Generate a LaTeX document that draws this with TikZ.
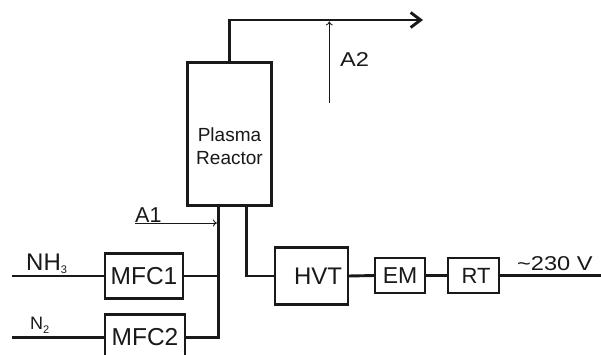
\documentclass[tikz,border=0pt]{standalone}
\usepackage{fontspec}
\setmainfont{Liberation Sans}
\newfontfamily\widesans[FakeStretch=1.18]{Liberation Sans}
\usetikzlibrary{arrows.meta}
\definecolor{ink}{RGB}{25,25,25}
\newcommand{\lowsub}[2]{\raisebox{-#1}{\fontsize{11}{12}\selectfont #2}}
\tikzset{
  blk/.style={draw=ink, line width=2.9pt, inner sep=0pt, outer sep=0pt, text=ink},
  pipe/.style={draw=ink, line width=2.9pt},
  probe/.style={draw=ink, line width=0.9pt, -{To[length=4pt,width=7pt]}},
  lbl/.style={inner sep=0pt, text=ink, anchor=base west},
}
\begin{document}
\begin{tikzpicture}[x=1pt,y=-1pt]
\useasboundingbox (0,0) rectangle (601,354);
\clip (0,0) rectangle (601,354);
\fill[white] (0,0) rectangle (601,354);
% blocks
\node[blk, minimum width=84pt, minimum height=143pt] (reactor) at (229.7,134.2) {};
\node[inner sep=0pt, text=ink, align=center, font=\fontsize{19}{23}\selectfont] (rtext) at (229.5,146) {Plasma\\Reactor};
\node[blk, minimum width=78pt, minimum height=45pt, font=\fontsize{24.5}{28}\selectfont] (mfc1) at (144,276) {MFC1};
\node[blk, minimum width=80pt, minimum height=46pt, font=\fontsize{24.5}{28}\selectfont] (mfc2) at (145,337.5) {MFC2};
\node[blk, minimum width=73pt, minimum height=57pt, font=\fontsize{24}{28}\selectfont] (hvt) at (311.5,276) {\hspace*{13pt}HVT};
\node[blk, minimum width=50pt, minimum height=35pt, font=\fontsize{23}{28}\selectfont] (em) at (400,275.5) {EM};
\node[blk, minimum width=51pt, minimum height=35pt, font=\fontsize{22}{28}\selectfont] (rt) at (473.5,275.5) {\hspace*{5pt}RT};
% coordinates
\coordinate (nh3) at (12,276);
\coordinate (n2) at (12,337.5);
\coordinate (in) at (218.3,337.5);
\coordinate (outx) at (246.7,0);
\coordinate (exh) at (423,20);
\coordinate (mains) at (601,275.5);
\coordinate (a1s) at (135,223);
\coordinate (a2s) at (329.3,103);
% gas lines
\draw[pipe] (nh3) -- (mfc1.west);
\draw[pipe] (n2) -- (mfc2.west);
\draw[pipe] (mfc2.east) -- (in) -- (reactor.south -| in);
\draw[pipe] (mfc1.east) -- (mfc1.east -| in);
% exhaust
\draw[pipe, -{Straight Barb[length=10pt,width=15pt,line width=2.9pt]}] (reactor.north) -- (reactor.north |- exh) -- (exh);
% electrical
\draw[pipe] (reactor.south -| outx) -- (hvt.west -| outx) -- (hvt.west);
\draw[pipe] (hvt.east) -- (em.west);
\draw[pipe] (em.east) -- (rt.west);
\draw[pipe] (rt.east) -- (mains);
% probes
\draw[probe, shorten >=1.4pt] (a1s) -- (a1s -| in);
\draw[probe, shorten >=1.4pt] (a2s) -- (a2s |- exh);
% labels
\node[lbl, font=\fontsize{21.5}{24}\selectfont] (a1) at (135,222) {A1};
\node[lbl, font=\widesans\fontsize{20}{24}\selectfont] (a2) at (340,66.5) {A2};
\node[lbl, font=\fontsize{24}{28}\selectfont] (lnh3) at (26,270) {NH\lowsub{3pt}{3}};
\node[lbl, font=\fontsize{18}{22}\selectfont] (ln2) at (30,329) {N\lowsub{4pt}{2}};
\node[lbl, font=\widesans\fontsize{20}{24}\selectfont] (lv) at (517,270.5) {\textasciitilde230 V};
\end{tikzpicture}
\end{document}
